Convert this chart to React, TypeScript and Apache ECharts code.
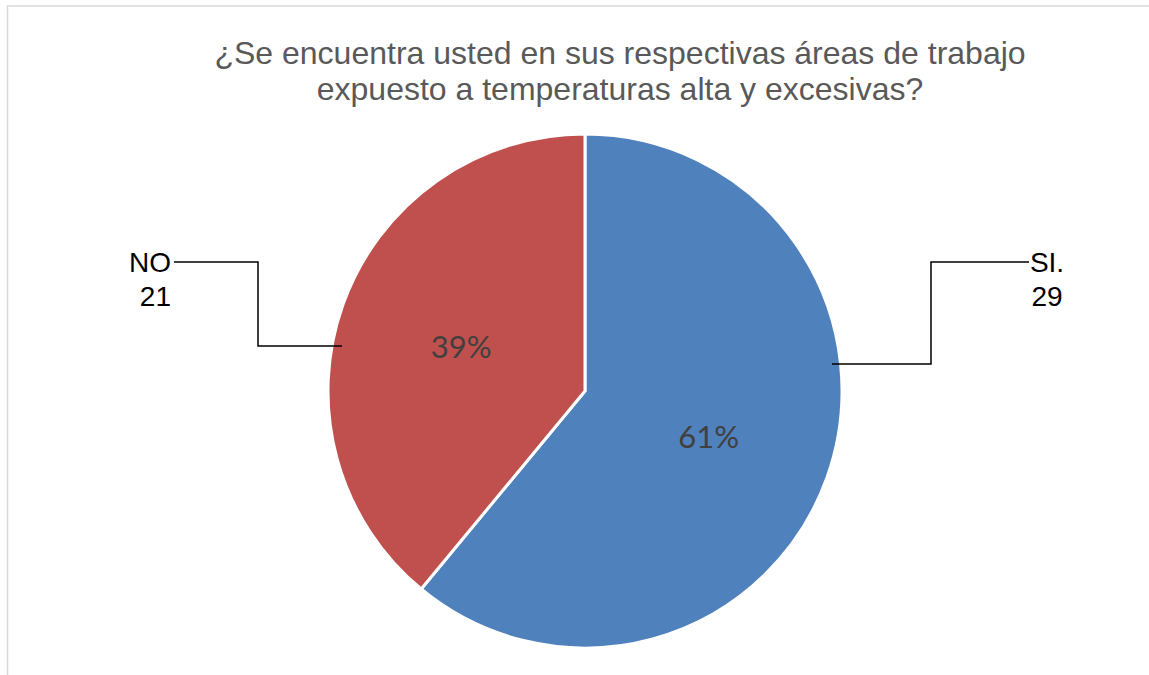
import React, { useEffect, useRef } from "react";
import * as echarts from "echarts";

const categories = ["SI.", "NO"];
const counts = [29, 21];
const percents = [61, 39];
const colors = ["#4F81BD", "#C0504D"];
const titleLines = [
  "¿Se encuentra usted en sus respectivas áreas de trabajo",
  "expuesto a temperaturas alta y excesivas?",
];

const CX = 585;
const CY = 391;
const R = 257;

export default function App() {
  const ref = useRef<HTMLDivElement>(null);
  useEffect(() => {
    if (!ref.current) return;
    const chart = echarts.init(ref.current, null, { renderer: "svg" });
    const data = categories.map((c, i) => ({
      name: c,
      value: percents[i],
      itemStyle: { color: colors[i] },
    }));
    // leader line geometry (annotation layout)
    const leaders: Record<string, { pts: number[][]; x: number; align: string }> = {
      "SI.": {
        pts: [
          [CX + 247, CY - 27],
          [CX + 346, CY - 27],
          [CX + 346, 262],
          [1029, 262],
        ],
        x: 1047,
        align: "center",
      },
      NO: {
        pts: [
          [CX - 243, CY - 45],
          [258, CY - 45],
          [258, 262],
          [174, 262],
        ],
        x: 171,
        align: "right",
      },
    };
    chart.setOption({
      animation: false,
      backgroundColor: "#ffffff",
      graphic: [
        {
          type: "rect",
          shape: { x: 7.5, y: 6, width: 1300, height: 800 },
          style: { fill: "none", stroke: "#d9d9d9", lineWidth: 1.5 },
          silent: true,
        },
        {
          type: "text",
          x: 620,
          y: 35,
          style: {
            text: titleLines.join("\n"),
            textAlign: "center",
            fontFamily: "Liberation Sans, Arial, sans-serif",
            fontSize: 32,
            lineHeight: 36,
            fill: "#595959",
          },
          silent: true,
        },
        ...categories.map((c) => ({
          type: "polyline",
          z: 100,
          shape: { points: leaders[c].pts },
          style: { stroke: "#000000", lineWidth: 1.5, fill: "none" },
          silent: true,
        })),
      ],
      series: [
        {
          type: "pie",
          center: [CX, CY],
          radius: R,
          startAngle: 90,
          clockwise: true,
          data,
          itemStyle: { borderColor: "#ffffff", borderWidth: 3 },
          label: {
            show: true,
            position: "inside",
            formatter: "{d}%",
            color: "#404040",
            fontFamily: "Lato, sans-serif",
            fontSize: 31,
          },
          labelLine: { show: false },
          emphasis: { disabled: true },
        },
        {
          type: "pie",
          center: [CX, CY],
          radius: R,
          startAngle: 90,
          clockwise: true,
          silent: true,
          data: data.map((d) => ({ ...d, itemStyle: { color: "rgba(0,0,0,0)" } })),
          itemStyle: { borderWidth: 0 },
          label: {
            show: true,
            position: "outside",
            formatter: (p: any) => `${p.name}\n${counts[p.dataIndex]}`,
            color: "#000000",
            fontFamily: "Liberation Sans, Arial, sans-serif",
            fontSize: 28,
            lineHeight: 34,
          },
          labelLine: { show: false },
          labelLayout: (params: any) => {
            const name = categories[params.dataIndex];
            const l = leaders[name];
            return {
              x: l.x,
              y: 245,
              align: l.align,
              verticalAlign: "top",
            };
          },
          emphasis: { disabled: true },
        },
      ],
    });
    return () => chart.dispose();
  }, []);
  return (
    <div
      ref={ref}
      style={{ position: "fixed", left: 0, top: 0, width: 1149, height: 675 }}
    />
  );
}
